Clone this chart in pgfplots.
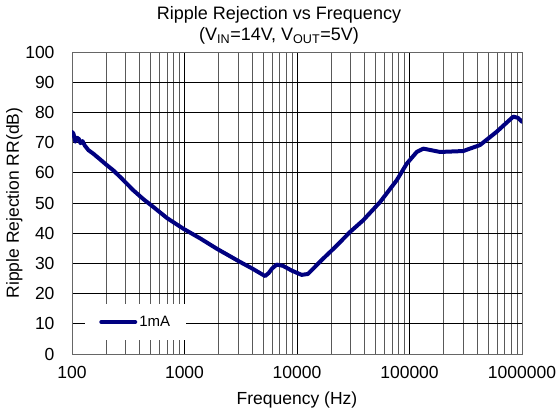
\documentclass[border=0pt]{standalone}
\usepackage{pgfplots}
\pgfplotsset{compat=1.18}
\usepackage{fontspec}
\setmainfont{Liberation Sans}
\definecolor{navy}{RGB}{0,0,128}
\begin{document}
\begin{tikzpicture}[x=1pt,y=1pt]
\useasboundingbox (-72,-58) rectangle (486,354);
\begin{axis}[
  at={(0,0)}, anchor=south west,
  scale only axis, width=450pt, height=302pt,
  xmode=log, xmin=100, xmax=1000000,
  ymin=0, ymax=100, ytick={0,10,...,100},
  xtick={100,1000,10000,100000,1000000},
  xticklabels={100,1000,10000,100000,1000000},
  minor xtick={200,300,400,500,600,700,800,900,2000,3000,4000,5000,6000,7000,8000,9000,20000,30000,40000,50000,60000,70000,80000,90000,200000,300000,400000,500000,600000,700000,800000,900000},
  major tick length=0pt, minor tick length=0pt,
  xmajorgrids, xminorgrids, ymajorgrids,
  major grid style={black, line width=0.7pt},
  minor grid style={black!65, line width=0.7pt},
  axis line style={black!60, line width=0.8pt},
  /pgf/number format/assume math mode=true,
  ticklabel style={font=\fontsize{17.5}{20}\selectfont},
  yticklabel style={xshift=-14pt},
  xticklabel style={yshift=-9pt},
  xlabel={Frequency (Hz)}, ylabel={Ripple Rejection RR(dB)},
  label style={font=\fontsize{17.5}{20}\selectfont},
  xlabel style={yshift=-6pt},
  ylabel style={yshift=-4pt},
  title={Ripple Rejection vs Frequency\\(V\textsubscript{IN}=14V, V\textsubscript{OUT}=5V)},
  title style={font=\fontsize{18}{21.5}\selectfont, align=center, at={(0.46,1)}, anchor=south, yshift=-2pt},
  legend style={at={(0.029,0.046)}, anchor=south west, draw=none, fill=white,
    font=\fontsize{15}{17}\selectfont, inner xsep=14pt, inner ysep=10pt},
  legend image code/.code={\draw[#1, line width=4pt] (0pt,0pt) -- (34pt,0pt);},
]
\addplot[navy, line width=4pt, line join=round, line cap=round] coordinates {
(100,73.5) (103,73.0) (107,70.3) (111,71.6) (115,71.2) (119,69.8) (124,70.5)
(130,69.0) (140,67.5) (155,66.3) (177,64.5) (200,62.8) (233,60.8) (270,58.5)
(351,54.2) (430,51.3) (528,48.7) (700,45.0) (975,41.5) (1375,38.3) (1930,34.9)
(3110,30.5) (4000,28.3) (5200,25.8) (5600,26.8) (6000,28.3) (6600,29.6)
(7500,29.2) (9000,27.6) (11000,26.2) (12500,26.5) (17100,31.6) (22000,35.5)
(29600,40.4) (38800,44.3) (54700,50.3) (76900,57.5) (94400,63.0) (116000,66.9)
(133000,68.0) (187000,66.9) (300000,67.2) (424000,69.2) (596000,73.6)
(750000,77.0) (837000,78.6) (920000,78.2) (1000000,76.9)
};
\addlegendentry{1mA}
\end{axis}
\end{tikzpicture}
\end{document}
